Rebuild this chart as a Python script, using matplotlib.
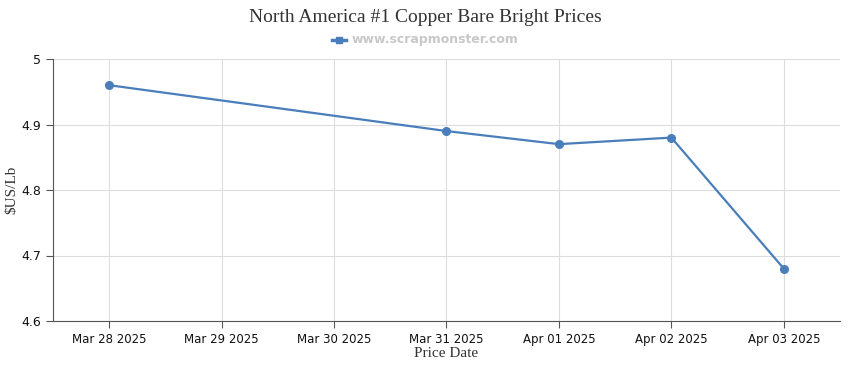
import matplotlib.pyplot as plt
import numpy as np

# chart values
dates = ['Mar 28 2025', 'Mar 29 2025', 'Mar 30 2025', 'Mar 31 2025',
         'Apr 01 2025', 'Apr 02 2025', 'Apr 03 2025']
price_days = [0, 3, 4, 5, 6]
prices = [4.96, 4.89, 4.87, 4.88, 4.68]
y_ticks = [4.6, 4.7, 4.8, 4.9, 5.0]
y_labels = ['4.6', '4.7', '4.8', '4.9', '5']

line_color = '#4a7ebb'

fig = plt.figure(figsize=(8.5, 3.7), dpi=100)
ax = fig.add_axes([53 / 850, 1 - 321 / 370, 787 / 850, 262 / 370])

ax.plot(price_days, prices, '-o', color=line_color, linewidth=1.6, markersize=5.5, zorder=3)

ax.set_xlim(-0.5, len(dates) - 0.5)
ax.set_ylim(4.6, 5.0)
ax.set_xticks(np.arange(len(dates)))
ax.set_xticklabels(dates, fontsize=8.5, family='DejaVu Sans')
ax.set_yticks(y_ticks)
ax.set_yticklabels(y_labels, fontsize=9, family='DejaVu Sans')
ax.grid(True, color='#dddddd', linewidth=0.8)
ax.set_axisbelow(True)

for side in ['top', 'right']:
    ax.spines[side].set_visible(False)
for side in ['left', 'bottom']:
    ax.spines[side].set_color('#555555')
ax.tick_params(axis='both', colors='#555555', length=5, labelcolor='#111111')

ax.set_xlabel('Price Date', family='Liberation Serif', fontsize=11, color='#333333', labelpad=1)
fig.text(12 / 850, 1 - 190 / 370, '$US/Lb', rotation=90, ha='center', va='center',
         family='Liberation Serif', fontsize=11, color='#333333')

fig.text(425 / 850, 1 - 17 / 370, 'North America #1 Copper Bare Bright Prices', ha='center', va='center',
         family='Liberation Serif', fontsize=14, color='#333333')
fig.text(352 / 850, 1 - 40 / 370, 'www.scrapmonster.com', ha='left', va='center',
         family='DejaVu Sans', fontsize=9, fontweight='bold', color='#c8c8c8')
fig.lines.append(plt.Line2D([332 / 850, 346 / 850], [1 - 40 / 370, 1 - 40 / 370],
                            transform=fig.transFigure, color=line_color, linewidth=2.5))
fig.lines.append(plt.Line2D([339 / 850], [1 - 40 / 370], transform=fig.transFigure,
                            color=line_color, marker='s', markersize=5, linestyle='none'))

fig.savefig('out.png', dpi=100)
